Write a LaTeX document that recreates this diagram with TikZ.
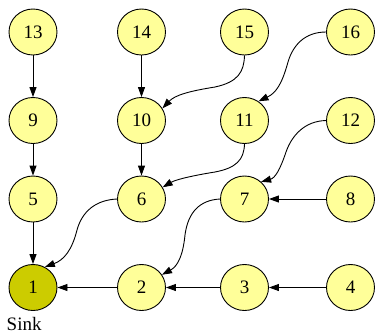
\documentclass[tikz,border=0pt]{standalone}
\usepackage{fontspec}
\setmainfont{Liberation Serif}
\usetikzlibrary{arrows.meta,shapes.geometric}
\definecolor{nodefill}{HTML}{FFFF99}
\definecolor{sinkfill}{HTML}{CCCC00}
\tikzset{
  vertex/.style={ellipse, draw=black, line width=0.9pt, fill=nodefill,
    minimum width=48pt, minimum height=46pt, inner sep=0pt,
    font=\fontsize{19pt}{22pt}\selectfont},
  sinkvertex/.style={vertex, fill=sinkfill},
  link/.style={draw=black, line width=0.9pt,
    -{Triangle[length=10pt,width=7pt]}},
}
\begin{document}
\begin{tikzpicture}[x=1pt,y=-1pt]
\useasboundingbox (0,0) rectangle (375,333);
% grid of vertices
\node[vertex] (n13) at (33,32) {13};
\node[vertex] (n14) at (141.5,32) {14};
\node[vertex] (n15) at (244.5,32) {15};
\node[vertex] (n16) at (350.5,32) {16};
\node[vertex] (n9)  at (33,120.5) {9};
\node[vertex] (n10) at (141.5,120.5) {10};
\node[vertex] (n11) at (244.5,120.5) {11};
\node[vertex] (n12) at (350.5,120.5) {12};
\node[vertex] (n5)  at (33,199) {5};
\node[vertex] (n6)  at (141.5,199) {6};
\node[vertex] (n7)  at (244.5,199) {7};
\node[vertex] (n8)  at (350.5,199) {8};
\node[sinkvertex] (n1) at (33,287.5) {1};
\node[vertex] (n2)  at (141.5,287.5) {2};
\node[vertex] (n3)  at (244.5,287.5) {3};
\node[vertex] (n4)  at (350.5,287.5) {4};
\node[anchor=base west, inner sep=0pt, font=\fontsize{19pt}{22pt}\selectfont] (sink) at (6.5,330) {Sink};
% straight links
\path[link] (n13) -- (n9);
\path[link] (n9) -- (n5);
\path[link] (n5) -- (n1);
\path[link] (n14) -- (n10);
\path[link] (n10) -- (n6);
\path[link] (n8) -- (n7);
\path[link] (n4) -- (n3);
\path[link] (n3) -- (n2);
\path[link] (n2) -- (n1);
% curved links
\path[link] (n15.south) .. controls (244,72) and (238,82) .. (215,87)
  .. controls (190,91) and (175,95) .. (n10.30);
\path[link] (n11.south) .. controls (244,160) and (236,168) .. (215,172)
  .. controls (190,176) and (175,180) .. (n6.29);
\path[link] (n16.west) .. controls (305,32) and (293,45) .. (288,62)
  .. controls (282,84) and (276,93) .. (n11.54);
\path[link] (n12.west) .. controls (305,121) and (292,135) .. (286,152)
  .. controls (280,170) and (275,178) .. (n7.46);
\path[link] (n7.west) .. controls (200,200) and (188,212) .. (185,235)
  .. controls (183,255) and (178,266) .. (n2.32);
\path[link] (n6.west) .. controls (95,200) and (82,212) .. (77,230)
  .. controls (72,250) and (64,260) .. (n1.60);
\end{tikzpicture}
\end{document}
